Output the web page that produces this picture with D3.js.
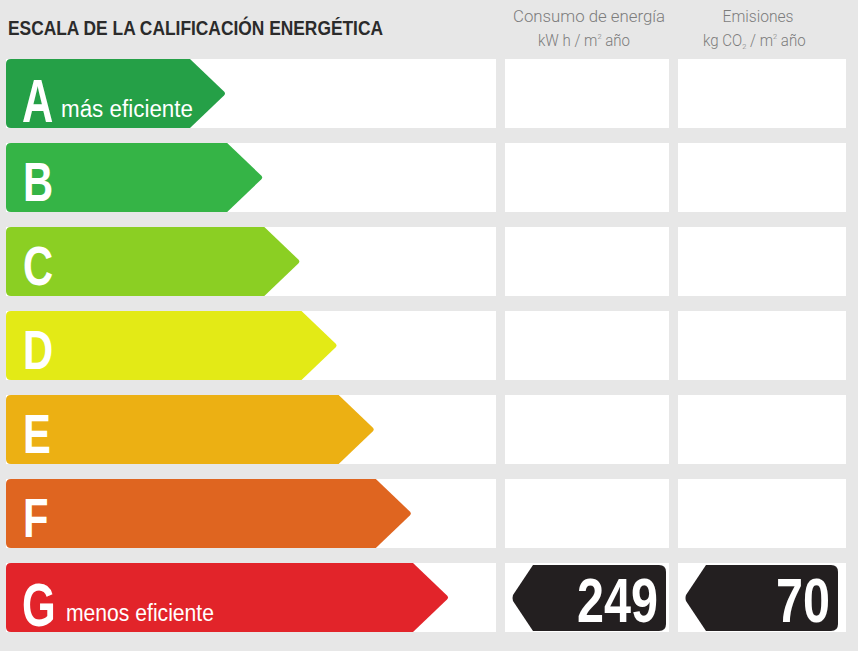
<!DOCTYPE html>
<html>
<head>
<meta charset="utf-8">
<script src="https://cdn.jsdelivr.net/npm/d3@7"></script>
<style>
  html, body { margin: 0; padding: 0; background: #e7e7e7; }
  svg { display: block; }
</style>
</head>
<body>
<svg id="chart" width="858" height="651"></svg>
<script>
// ---- data ----
const title = "ESCALA DE LA CALIFICACIÓN ENERGÉTICA";
const categories = ["A", "B", "C", "D", "E", "F", "G"];
const classColors = ["#25a047", "#35b446", "#8bcf23", "#e3ea16", "#ecb013", "#df6520", "#e2242a"];
const captions = ["más eficiente", "", "", "", "", "", "menos eficiente"];
const columnTitles = ["Consumo de energía", "Emisiones"];
const columnUnits = [["kW h / m", "2", " año"], ["kg CO", "2", " / m", "2", " año"]];
const energyRating = "G";
const energyValue = 249;
const emissionRating = "G";
const emissionValue = 70;

// ---- layout ----
const svg = d3.select("#chart");
const W = 858, H = 651;
svg.append("rect").attr("width", W).attr("height", H).attr("fill", "#e7e7e7");

const y = d3.scaleBand().domain(categories).range([59, 632]).paddingInner(15 / 84).paddingOuter(0);
const tipX = d3.scaleLinear().domain([0, categories.length - 1]).range([226, 449]);
const cols = [
  { x0: 6, x1: 496 },
  { x0: 505, x1: 669 },
  { x0: 678, x1: 846 }
];

const sans = "'Liberation Sans', Arial, Helvetica, sans-serif";

// place text with horizontal condensation
function squeeze(sel, x, yy, sx) {
  return sel.attr("x", 0).attr("y", 0)
    .attr("transform", `translate(${x},${yy}) scale(${sx},1)`);
}

// title
svg.append("text")
  .attr("x", 8).attr("y", 35)
  .attr("font-family", sans)
  .attr("font-weight", "bold")
  .attr("font-size", 20)
  .attr("fill", "#2b2b2b")
  .attr("textLength", 375)
  .attr("lengthAdjust", "spacingAndGlyphs")
  .text(title);

// column headers
const headerSpec = [
  { cx: 589, titleW: 152, unitX: 538 },
  { cx: 758, titleW: 71, unitX: 703 }
];
const headFont = "Roboto, 'Liberation Sans', sans-serif";
columnTitles.forEach((t, i) => {
  svg.append("text")
    .attr("x", headerSpec[i].cx - headerSpec[i].titleW / 2).attr("y", 22)
    .attr("font-family", headFont)
    .attr("font-weight", 300)
    .attr("font-size", 17)
    .attr("fill", "#7c7c7c")
    .attr("textLength", headerSpec[i].titleW)
    .attr("lengthAdjust", "spacingAndGlyphs")
    .text(t);
  const u = svg.append("text")
    .attr("font-family", headFont)
    .attr("font-weight", 300)
    .attr("font-size", 16)
    .attr("fill", "#7c7c7c");
  squeeze(u, headerSpec[i].unitX, 46, 0.94);
  columnUnits[i].forEach((part, k) => {
    const ts = u.append("tspan").text(part);
    if (part === "2") {
      ts.attr("font-size", 8);
      ts.attr("dy", (i === 1 && k === 1) ? 3 : -7);
    } else if (k > 0) {
      ts.attr("dy", (i === 1 && k === 2) ? -3 : 7);
    }
  });
});

// white cells
const rows = svg.selectAll("g.row").data(categories).enter().append("g").attr("class", "row");
cols.forEach(c => {
  rows.append("rect")
    .attr("x", c.x0).attr("y", d => y(d))
    .attr("width", c.x1 - c.x0).attr("height", y.bandwidth())
    .attr("fill", "#ffffff");
});

// arrow path
function arrowPath(x0, yTop, h, tip, point, r) {
  const x1 = tip - point;
  const yb = yTop + h, ym = yTop + h / 2;
  return [
    "M", x0 + r, yTop,
    "L", x1, yTop,
    "L", tip - 2, ym - 2,
    "Q", tip, ym, tip - 2, ym + 2,
    "L", x1, yb,
    "L", x0 + r, yb,
    "Q", x0, yb, x0, yb - r,
    "L", x0, yTop + r,
    "Q", x0, yTop, x0 + r, yTop,
    "Z"
  ].join(" ");
}

rows.append("path")
  .attr("d", (d, i) => arrowPath(cols[0].x0, y(d), y.bandwidth(), tipX(i), 36, 5))
  .attr("fill", (d, i) => classColors[i]);

rows.each(function (d, i) {
  const big = !!captions[i];
  const t = d3.select(this).append("text")
    .attr("font-family", sans)
    .attr("font-weight", "bold")
    .attr("font-size", big ? 62 : 55)
    .attr("fill", "#ffffff")
    .text(d);
  squeeze(t, big ? 22 : 23, y(d) + (big ? 63 : 58), big ? 0.7 : 0.76);
  if (big) {
    d3.select(this).append("text")
      .attr("x", d === "A" ? 61 : 66)
      .attr("y", y(d) + 58)
      .attr("font-family", sans)
      .attr("font-size", 23)
      .attr("fill", "#ffffff")
      .attr("textLength", d === "A" ? 132 : 148)
      .attr("lengthAdjust", "spacingAndGlyphs")
      .text(captions[i]);
  }
});

// value labels (black pointers)
function pointerPath(tip, x1, yTop, h, point, r) {
  const xl = tip + point;
  const yb = yTop + h, ym = yTop + h / 2;
  return [
    "M", xl, yTop,
    "L", x1 - r, yTop,
    "Q", x1, yTop, x1, yTop + r,
    "L", x1, yb - r,
    "Q", x1, yb, x1 - r, yb,
    "L", xl, yb,
    "L", tip + 1, ym + 3,
    "Q", tip, ym, tip + 1, ym - 3,
    "Z"
  ].join(" ");
}

const values = [
  { rating: energyRating, value: energyValue, tip: 512, right: 666 },
  { rating: emissionRating, value: emissionValue, tip: 685, right: 838 }
];
const vg = svg.selectAll("g.val").data(values).enter().append("g").attr("class", "val");
vg.append("path")
  .attr("d", d => pointerPath(d.tip, d.right, y(d.rating) + 2, y.bandwidth() - 3, 21, 7))
  .attr("fill", "#231f20");
vg.each(function (d) {
  const t = d3.select(this).append("text")
    .attr("text-anchor", "end")
    .attr("font-family", sans)
    .attr("font-weight", "bold")
    .attr("font-size", 63)
    .attr("fill", "#ffffff")
    .text(d.value);
  squeeze(t, d.right - 8, y(d.rating) + 59, 0.77);
});
</script>
</body>
</html>
